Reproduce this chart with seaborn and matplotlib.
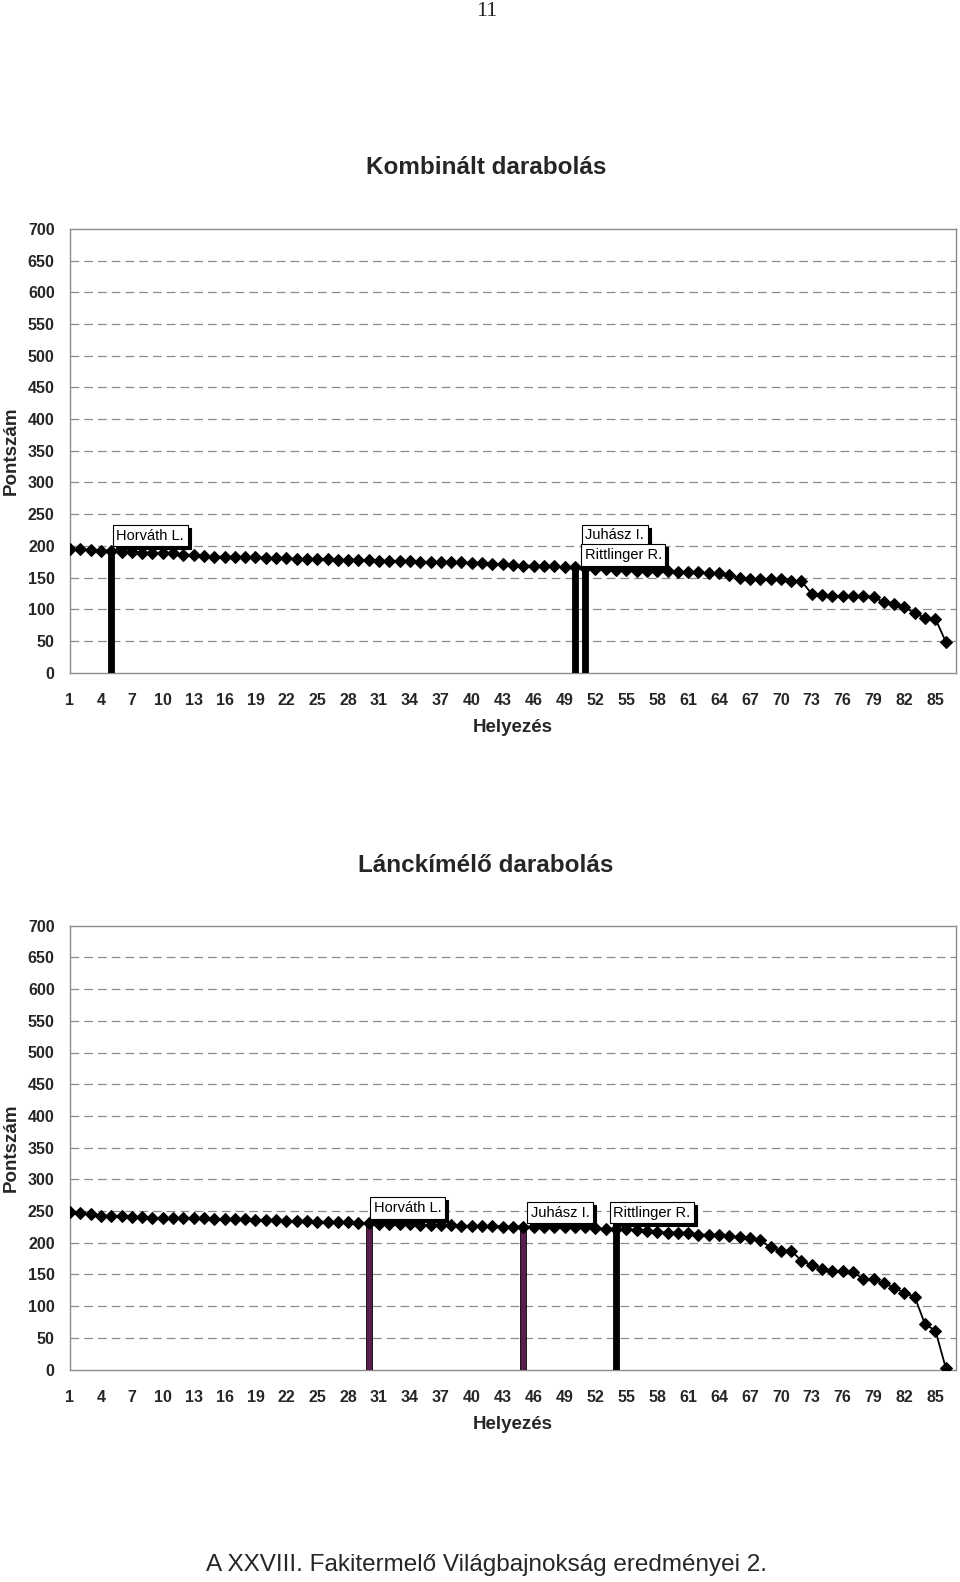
import numpy as np
import pandas as pd
import matplotlib
matplotlib.use("Agg")
import matplotlib.pyplot as plt
import seaborn as sns

# Helyezés 1..86, pontszámok (leolvasva)
helyezes = list(range(1, 87))

kombinalt = [195, 195, 193, 192.5, 192.5, 191, 191, 189.5, 188.5, 188,
             188, 186, 186, 184, 183, 183, 183, 182, 182, 181.5,
             180.5, 180.5, 179.5, 179.5, 179.5, 178.5, 178, 178, 178, 177.5,
             176.5, 176.5, 175.5, 175.5, 174.5, 174, 174, 174, 174, 173,
             173, 172, 171, 170, 169, 168.5, 168.5, 167.5, 166, 166,
             165, 163.5, 163, 162, 162, 161, 160.5, 160.5, 160.5, 159,
             159, 158, 156.5, 156.5, 154.5, 149, 147.5, 147.5, 147.5, 147.5,
             144.5, 144.5, 124, 123, 121, 121, 121, 121, 119.5, 111,
             107.5, 103, 94, 86, 85, 49]

lanckimelo = [248, 246.5, 245.5, 242.5, 241.5, 241.5, 240.5, 240.5, 239.5, 238.5,
              238.5, 238.5, 238.5, 238.5, 237.5, 237.5, 237.5, 237, 236.5, 235.5,
              235.5, 234, 234, 234, 233, 233, 232, 232, 231, 231,
              230, 229, 229, 229, 227.5, 227.5, 227.5, 227.5, 226.5, 226.5,
              226.5, 226.5, 225.5, 225.5, 225.5, 225.5, 225.5, 224, 224, 224,
              224, 223, 221.5, 222, 221, 219.5, 218.5, 217, 216, 215.5,
              215.5, 212.5, 212.5, 212.5, 210, 209, 207.5, 204, 192.5, 187.5,
              187.5, 171.5, 164.5, 159, 155, 155, 153.5, 143, 142, 136,
              129, 121, 114.5, 71, 61.5, 3]

versenyzok = ["Horváth L.", "Juhász I.", "Rittlinger R."]
kombinalt_hely = [5, 50, 51]
lanckimelo_hely = [30, 45, 54]
kombinalt_szin = ["black", "black", "black"]
lanckimelo_szin = ["#5b1d4d", "#5b1d4d", "black"]
# címke-eltolás pixelben a ponthoz képest (doboz közepe)
kombinalt_eltolas = [(39, 15), (40, 32), (38, 13)]
lanckimelo_eltolas = [(39, 15), (37, 14), (36, 16)]

y_ticks = list(range(0, 701, 50))
x_labels = list(range(1, 86, 3))

sns.set_style("white")
plt.rcParams["font.family"] = ["Liberation Sans", "DejaVu Sans"]

fig = plt.figure(figsize=(9.6, 15.82), dpi=100)
W, H = 960, 1582

GRID = "#8c8c8c"


def label_box(ax, x, y, text, off):
    # árnyék + fehér doboz, mint az Excel adatfeliratnál
    common = dict(xy=(x, y), textcoords="offset pixels", ha="center", va="center",
                  fontsize=10.5, zorder=6)
    ax.annotate(text, xytext=(off[0] + 3, off[1] - 3), color="black",
                bbox=dict(boxstyle="square,pad=0.25", fc="black", ec="black", lw=0.8),
                **common)
    ax.annotate(text, xytext=off, color="black",
                bbox=dict(boxstyle="square,pad=0.25", fc="white", ec="black", lw=0.8),
                **common)


def draw_chart(ax, values, hely, szin, eltolas):
    df = pd.DataFrame({"Helyezés": helyezes, "Pontszám": values})
    for h, c in zip(hely, szin):
        ax.bar(h, values[h - 1], width=0.6, color=c, edgecolor="black", lw=0.6, zorder=3)
    sns.lineplot(data=df, x="Helyezés", y="Pontszám", ax=ax, color="black", lw=1.3,
                 marker="D", markersize=6.5, markeredgecolor="black", zorder=4)
    for name, h, off in zip(versenyzok, hely, eltolas):
        label_box(ax, h, values[h - 1], name, off)

    ax.set_xlim(1, 87)
    ax.set_ylim(0, 700)
    ax.set_yticks(y_ticks)
    ax.set_xticks(x_labels)
    ax.set_xticks(range(1, 88), minor=True)
    for yv in y_ticks[1:-1]:
        ax.axhline(yv, color=GRID, lw=0.9, ls=(0, (7, 4)), zorder=1)
    for sp in ax.spines.values():
        sp.set_color(GRID)
        sp.set_linewidth(1.0)
    ax.tick_params(axis="y", direction="out", length=5, width=0.9, color=GRID, pad=6,
                   labelsize=11.5)
    ax.tick_params(axis="x", which="both", direction="inout", length=7, width=0.9,
                   color=GRID, pad=11, labelsize=11.5)
    for t in ax.get_xticklabels() + ax.get_yticklabels():
        t.set_fontweight("bold")
    ax.set_xlabel("Helyezés", fontsize=13.5, fontweight="bold", labelpad=8)
    ax.set_ylabel("Pontszám", fontsize=13.5, fontweight="bold", labelpad=0)
    ax.grid(False)


def axes_rect(top_px, bottom_px):
    left, right = 70, 956
    return [left / W, 1 - bottom_px / H, (right - left) / W, (bottom_px - top_px) / H]


ax1 = fig.add_axes(axes_rect(229, 672.6))
draw_chart(ax1, kombinalt, kombinalt_hely, kombinalt_szin, kombinalt_eltolas)
ax2 = fig.add_axes(axes_rect(925.7, 1369.5))
draw_chart(ax2, lanckimelo, lanckimelo_hely, lanckimelo_szin, lanckimelo_eltolas)

for ax in (ax1, ax2):
    ax.yaxis.label.set_va("center")
    ax.yaxis.set_label_coords(-59 / 886, 0.5)

fig.text(486 / W, 1 - 168 / H, "Kombinált darabolás", ha="center", va="center",
         fontsize=17.5, fontweight="bold")
fig.text(486 / W, 1 - 866 / H, "Lánckímélő darabolás", ha="center", va="center",
         fontsize=17.5, fontweight="bold")
fig.text(487 / W, 1 - 12 / H, "11", ha="center", va="center", fontsize=16,
         family=["Liberation Serif", "DejaVu Serif"])
fig.text(487 / W, 1 - 1565 / H, "A XXVIII. Fakitermelő Világbajnokság eredményei 2.",
         ha="center", va="center", fontsize=17.5)

fig.savefig("out.png", dpi=100)
